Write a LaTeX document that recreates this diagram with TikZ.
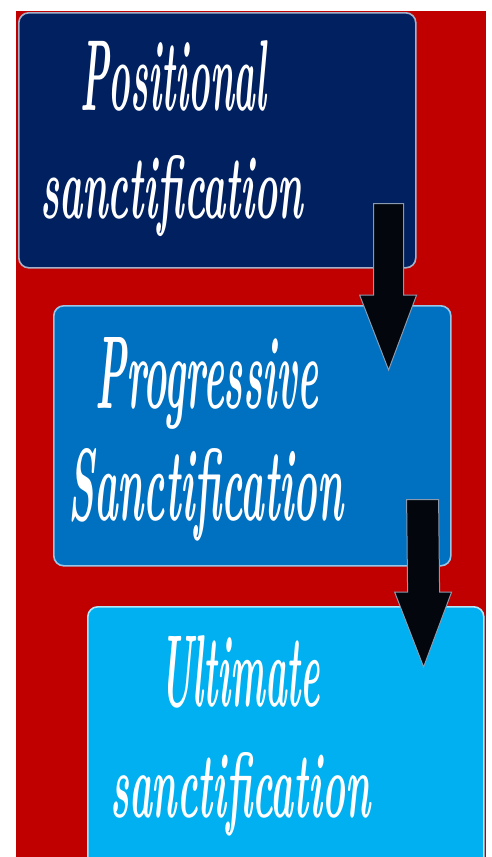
\documentclass[tikz,border=0pt]{standalone}
\usepackage{graphicx}
\usetikzlibrary{calc}
\definecolor{bgred}{HTML}{C00000}
\definecolor{navy}{HTML}{002060}
\definecolor{midblue}{HTML}{0070C0}
\definecolor{skyblue}{HTML}{00B0F0}
\definecolor{arrowfill}{HTML}{03070D}
\definecolor{arrowline}{HTML}{8A9AAE}
\tikzset{
  x=1pt, y=-1pt,
  stagebox/.style={rectangle, rounded corners=10pt, inner sep=0pt, line width=1.6pt, anchor=north west},
  lbl/.style={anchor=base west, inner sep=0pt, text=white, font=\bfseries\itshape},
  blockarrow/.style={fill=arrowfill, draw=arrowline, line width=1pt, line join=miter}
}
\newcommand{\fitline}[3]{\resizebox{#1pt}{#2pt}{#3}}
\begin{document}
\begin{tikzpicture}
\useasboundingbox (0,0) rectangle (491,857);
\clip (0,0) rectangle (491,857);
\fill[white] (0,0) rectangle (491,857);
\fill[bgred] (16,11) rectangle (486,857);
% boxes
\node[stagebox, fill=navy, draw=navy!35!white, minimum width=397pt, minimum height=255pt] (b1) at (18,12) {};
\node[stagebox, fill=midblue, draw=midblue!40!white, minimum width=397pt, minimum height=260pt] (b2) at (53,305) {};
\node[stagebox, fill=skyblue, draw=skyblue!30!white, minimum width=396pt, minimum height=280pt] (b3) at (87,606) {};
% labels
\node[lbl] (t1a) at (80,110) {\fitline{186}{70}{Positional}};
\node[lbl] (t1b) at (40,218) {\fitline{263}{63}{sanctification}};
\node[lbl] (t2a) at (95,408) {\fitline{223}{71}{Progressive}};
\node[lbl] (t2b) at (68,520) {\fitline{275}{72}{Sanctification}};
\node[lbl] (t3a) at (160,706) {\fitline{160}{71}{Ultimate}};
\node[lbl] (t3b) at (110,817) {\fitline{260}{65}{sanctification}};
% block arrows (connectors)
\coordinate (a1s) at ($(b1.south east)+(-28,-65)$);
\coordinate (a1t) at ($(b2.north east)+(-63,65)$);
\coordinate (a2s) at ($(b2.south east)+(-29,-67)$);
\coordinate (a2t) at ($(b3.north east)+(-61,61)$);
\path[blockarrow] ($(a1s)+(-15,0)$) -- ($(a1s)+(15,0)$) -- ($(a1t)+(15,-75)$) -- ($(a1t)+(28,-75)$) -- (a1t) -- ($(a1t)+(-29,-75)$) -- ($(a1t)+(-15,-75)$) -- cycle;
\path[blockarrow] ($(a2s)+(-16,0)$) -- ($(a2s)+(16,0)$) -- ($(a2t)+(16,-75)$) -- ($(a2t)+(28,-75)$) -- (a2t) -- ($(a2t)+(-29,-75)$) -- ($(a2t)+(-16,-75)$) -- cycle;
\end{tikzpicture}
\end{document}
